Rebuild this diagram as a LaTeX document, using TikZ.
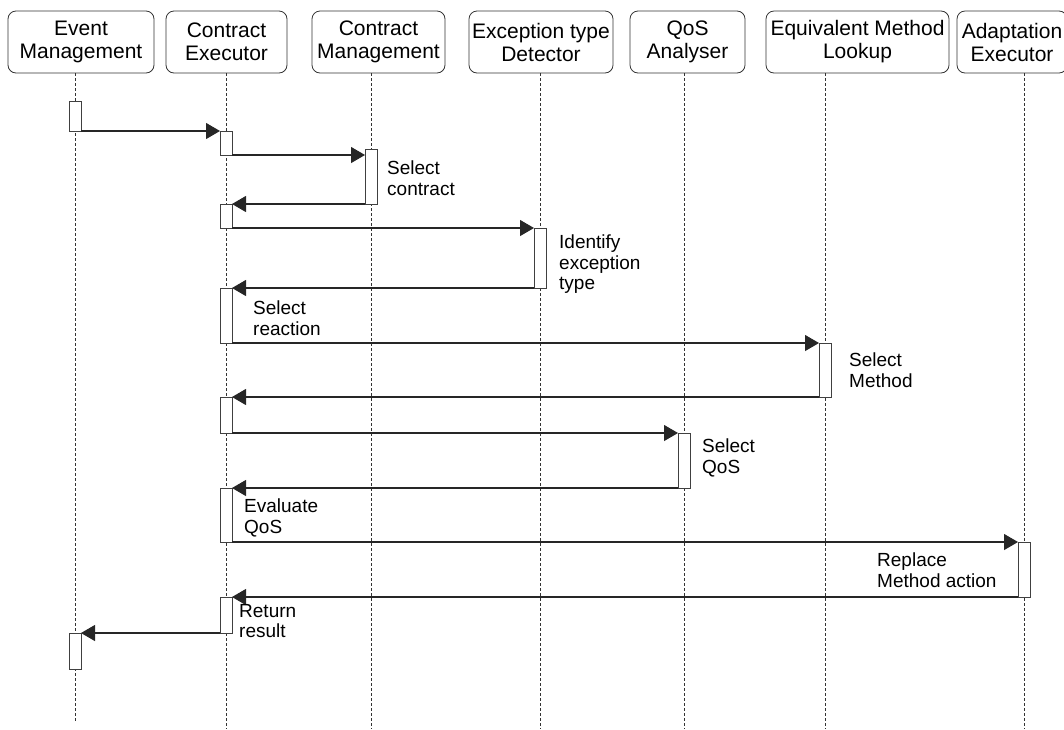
\documentclass[tikz,border=0pt]{standalone}
\usepackage{fontspec}
\setmainfont{Liberation Sans}
\usetikzlibrary{arrows.meta}
\begin{document}
\begin{tikzpicture}[x=1pt,y=-1pt,
  hdr/.style={draw=black!80, rounded corners=8pt, line width=0.8pt, align=center,
    font=\fontsize{21}{23}\selectfont, inner sep=0pt, minimum height=62pt},
  life/.style={draw=black!80, dash pattern=on 3pt off 2pt, line width=0.8pt},
  act/.style={draw=black!75, fill=white, line width=0.8pt, minimum width=12pt,
    inner sep=0pt, outer sep=0pt, anchor=north},
  msg/.style={draw=black!85, line width=1.1pt, -{Triangle[length=14pt,width=16pt]}},
  lbl/.style={font=\fontsize{19}{20.5}\selectfont, align=left, anchor=north west, inner sep=0pt}
]
\useasboundingbox (0,0) rectangle (1064,729);
% headers
\node[hdr, minimum width=146pt] (hEM)  at (81,42)    {Event\\Management};
\node[hdr, minimum width=121pt] (hCE)  at (226.5,42) {Contract\\Executor};
\node[hdr, minimum width=133pt] (hCM)  at (378.5,42) {Contract\\Management};
\node[hdr, minimum width=144pt] (hETD) at (541,42)   {Exception type\\Detector};
\node[hdr, minimum width=115pt] (hQoS) at (687.5,42) {QoS\\Analyser};
\node[hdr, minimum width=183pt] (hEML) at (857.5,42) {Equivalent Method\\Lookup};
\node[hdr, minimum width=110pt] (hAE)  at (1012,42)  {Adaptation\\Executor};
% lifeline ends
\coordinate (eEM)  at (75,721);
\coordinate (eCE)  at (226,729);
\coordinate (eCM)  at (371,729);
\coordinate (eETD) at (540,729);
\coordinate (eQoS) at (684,729);
\coordinate (eEML) at (825,729);
\coordinate (eAE)  at (1024,729);
\draw[life] (eEM |- hEM.south) -- (eEM);
\draw[life] (eCE |- hCE.south) -- (eCE);
\draw[life] (eCM |- hCM.south) -- (eCM);
\draw[life] (eETD |- hETD.south) -- (eETD);
\draw[life] (eQoS |- hQoS.south) -- (eQoS);
\draw[life] (eEML |- hEML.south) -- (eEML);
\draw[life] (eAE |- hAE.south) -- (eAE);
% activations
\node[act, minimum height=30pt] (ev1) at (75,101) {};
\node[act, minimum height=24pt] (c1)  at (226,131) {};
\node[act, minimum height=55pt] (cm1) at (371,149) {};
\node[act, minimum height=24pt] (c2)  at (226,204) {};
\node[act, minimum height=60pt] (e1)  at (540,228) {};
\node[act, minimum height=55pt] (c3)  at (226,288) {};
\node[act, minimum height=54pt] (m1)  at (825,343) {};
\node[act, minimum height=36pt] (c4)  at (226,397) {};
\node[act, minimum height=55pt] (q1)  at (684,433) {};
\node[act, minimum height=54pt] (c5)  at (226,488) {};
\node[act, minimum height=55pt] (a1)  at (1024,542) {};
\node[act, minimum height=36pt] (c6)  at (226,597) {};
\node[act, minimum height=36pt] (ev2) at (75,633) {};
% messages
\draw[msg] (ev1.south east) -- (c1.north west);
\draw[msg] (c1.south east) -- (c1.south east -| cm1.west);
\draw[msg] (cm1.south west) -- (c2.north east);
\draw[msg] (c2.south east) -- (e1.north west);
\draw[msg] (e1.south west) -- (c3.north east);
\draw[msg] (c3.south east) -- (m1.north west);
\draw[msg] (m1.south west) -- (c4.north east);
\draw[msg] (c4.south east) -- (q1.north west);
\draw[msg] (q1.south west) -- (c5.north east);
\draw[msg] (c5.south east) -- (a1.north west);
\draw[msg] (a1.south west) -- (c6.north east);
\draw[msg] (c6.south west) -- (ev2.north east);
% labels
\node[lbl] (l1) at (387,161) {Select\\contract};
\node[lbl] (l2) at (559,235) {Identify\\exception\\type};
\node[lbl] (l3) at (253,301) {Select\\reaction};
\node[lbl] (l4) at (849,353) {Select\\Method};
\node[lbl] (l5) at (702,439) {Select\\QoS};
\node[lbl] (l6) at (244,499) {Evaluate\\QoS};
\node[lbl] (l7) at (877,553) {Replace\\Method action};
\node[lbl] (l8) at (239,604) {Return\\result};
\end{tikzpicture}
\end{document}
